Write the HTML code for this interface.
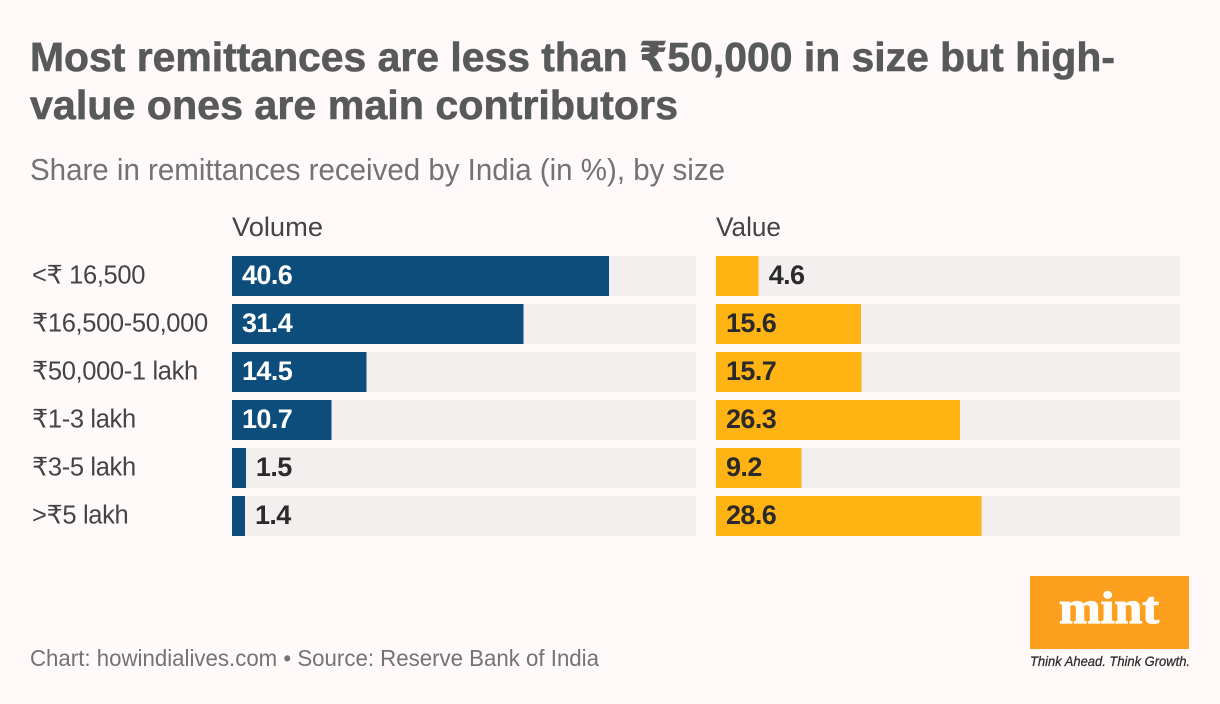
<!DOCTYPE html>
<html lang="en">
<head>
<meta charset="utf-8">
<title>Most remittances are less than ₹50,000 in size</title>
<style>
html,body{margin:0;padding:0;background:#fff9f9;}
svg{display:block;font-family:"Liberation Sans","DejaVu Sans",sans-serif;}
</style>
</head>
<body>
<svg id="chart" xmlns="http://www.w3.org/2000/svg" width="1220" height="704" viewBox="0 0 1220 704">
  <rect x="0" y="0" width="1220" height="704" fill="#fff9f9"/>
  <text x="30" y="71" font-size="41" font-weight="700" fill="#58595b" stroke="#58595b" stroke-width="0.6" textLength="1085" lengthAdjust="spacingAndGlyphs">Most remittances are less than ₹50,000 in size but high-</text>
  <text x="30" y="119" font-size="41" font-weight="700" fill="#58595b" stroke="#58595b" stroke-width="0.6" textLength="648" lengthAdjust="spacingAndGlyphs">value ones are main contributors</text>
  <text x="30" y="180" font-size="31" fill="#727375" textLength="695" lengthAdjust="spacingAndGlyphs">Share in remittances received by India (in %), by size</text>
  <text x="232" y="236" font-size="27" fill="#444" textLength="91" lengthAdjust="spacingAndGlyphs">Volume</text>
  <text x="716" y="236" font-size="27" fill="#444" textLength="65" lengthAdjust="spacingAndGlyphs">Value</text>
  <g id="rows"></g>
  <text x="30" y="666" font-size="23" fill="#727375" textLength="569" lengthAdjust="spacingAndGlyphs">Chart: howindialives.com • Source: Reserve Bank of India</text>
  <g>
    <rect x="1030" y="576" width="159" height="73" fill="#fc9f1e"/>
    <text x="1109" y="623" font-family="'Liberation Serif',serif" font-size="46" font-weight="700" fill="#fffdf9" stroke="#fffdf9" stroke-width="1.2" text-anchor="middle" textLength="100" lengthAdjust="spacingAndGlyphs">mint</text>
    <text x="1030" y="666" font-size="14" font-style="italic" fill="#2b2b2b" stroke="#2b2b2b" stroke-width="0.25" textLength="160" lengthAdjust="spacingAndGlyphs">Think Ahead. Think Growth.</text>
  </g>
</svg>
<script>
const categories = ["<₹ 16,500", "₹16,500-50,000", "₹50,000-1 lakh", "₹1-3 lakh", "₹3-5 lakh", ">₹5 lakh"];
const volumeValues = [40.6, 31.4, 14.5, 10.7, 1.5, 1.4];
const shareValues = [4.6, 15.6, 15.7, 26.3, 9.2, 28.6];
const axisMax = 50;

const SVG_NS = "http://www.w3.org/2000/svg";
const rowsGroup = document.getElementById("rows");
const panelWidth = 464;
const rowTop = 256;
const rowStep = 48;
const barHeight = 40;
const insideThreshold = 8;

function xScale(v) { return v / axisMax * panelWidth; }
function yScale(i) { return rowTop + i * rowStep; }

function addRect(x, y, w, h, fill) {
  const r = document.createElementNS(SVG_NS, "rect");
  r.setAttribute("x", x);
  r.setAttribute("y", y);
  r.setAttribute("width", w);
  r.setAttribute("height", h);
  r.setAttribute("fill", fill);
  r.setAttribute("shape-rendering", "crispEdges");
  rowsGroup.appendChild(r);
  return r;
}

function addText(x, y, str, size, weight, fill, spacing) {
  const t = document.createElementNS(SVG_NS, "text");
  t.setAttribute("x", x);
  t.setAttribute("y", y);
  t.setAttribute("font-size", size);
  t.setAttribute("font-weight", weight);
  t.setAttribute("fill", fill);
  t.setAttribute("letter-spacing", spacing);
  t.textContent = str;
  rowsGroup.appendChild(t);
  return t;
}

function drawPanel(values, left, color, insideColor) {
  values.forEach(function (v, i) {
    const y = yScale(i);
    const track = addRect(left, y, panelWidth, barHeight, "#f3efef");
    
    
    const w = xScale(v);
    const bar = addRect(left, y, w, barHeight, color);
    
    
    const inside = v >= insideThreshold;
    const lx = inside ? left + 10 : left + w + 10;
    const label = addText(lx, y + 28, v.toFixed(1), 27, 700, inside ? insideColor : "#2b2a2a", -0.6);
    
    
  });
}

categories.forEach(function (c, i) {
  const label = addText(32, yScale(i) + 27.5, c, 25.5, 400, "#444", -0.35);
  
  
});

drawPanel(volumeValues, 232, "#0c4d7c", "#ffffff");
drawPanel(shareValues, 716, "#ffb414", "#2b2a2a");
</script>
</body>
</html>
